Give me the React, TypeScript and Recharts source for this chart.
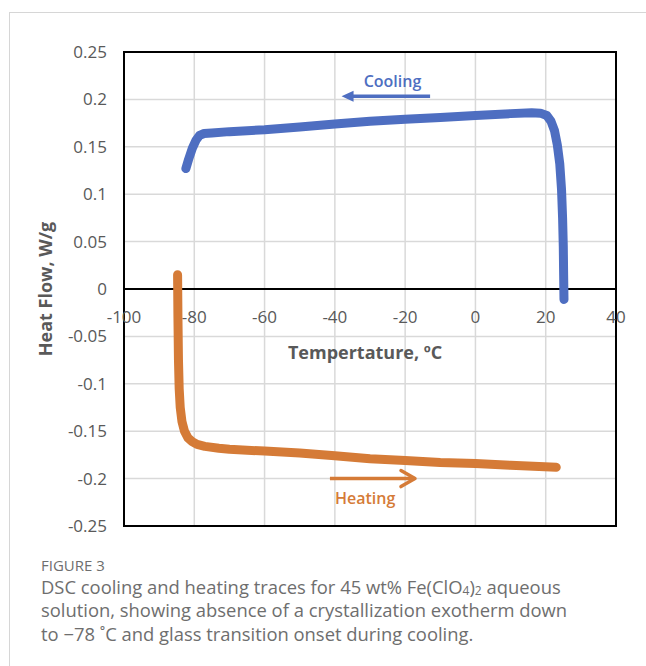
import React from 'react';
import {
  ComposedChart,
  Line,
  XAxis,
  YAxis,
  CartesianGrid,
  ReferenceLine,
  ReferenceDot,
  ReferenceArea,
} from 'recharts';

// ---- data ----
const coolingTemp = [-82.4, -81.6, -80.6, -79.5, -78.5, -77.2, -75, -70, -60, -50, -40, -30, -20, -10, 0, 10, 16, 18.5, 20.3, 21.5, 22.5, 23.3, 24.0, 24.5, 24.8, 25.0, 25.1, 25.2];
const coolingFlow = [0.127, 0.137, 0.148, 0.157, 0.162, 0.164, 0.1645, 0.166, 0.168, 0.171, 0.174, 0.177, 0.179, 0.181, 0.183, 0.185, 0.186, 0.1855, 0.183, 0.177, 0.167, 0.152, 0.132, 0.105, 0.075, 0.045, 0.015, -0.011];

const heatingTemp = [-84.75, -84.65, -84.5, -84.3, -84.0, -83.5, -82.8, -81.8, -80.6, -79.2, -77, -73, -70, -60, -50, -40, -30, -20, -10, 0, 10, 23];
const heatingFlow = [0.015, -0.03, -0.075, -0.105, -0.125, -0.14, -0.15, -0.157, -0.161, -0.164, -0.166, -0.168, -0.169, -0.171, -0.173, -0.176, -0.179, -0.181, -0.183, -0.184, -0.186, -0.188];

const xTicks = [-100, -80, -60, -40, -20, 0, 20, 40];
const yTicks = [-0.25, -0.2, -0.15, -0.1, -0.05, 0, 0.05, 0.1, 0.15, 0.2, 0.25];

const coolingLabel = 'Cooling';
const heatingLabel = 'Heating';
const xTitle = 'Tempertature, ºC';
const yTitle = 'Heat Flow, W/g';

const coolingData = coolingTemp.map((t, i) => ({ t, hf: coolingFlow[i] }));
const heatingData = heatingTemp.map((t, i) => ({ t, hf: heatingFlow[i] }));

// ---- styling / layout ----
const BLUE = '#4e6ec1';
const ORANGE = '#d57b37';
const GREY = '#595959';
const CAPTION = '#6e6e6e';
const FONT = '"Open Sans", sans-serif';

const CHART_W = 646;
const CHART_H = 546;
const M_TOP = 52;
const X_AXIS_H = 20;
const PLOT_H = CHART_H - M_TOP - X_AXIS_H;
const ZERO_Y = M_TOP + PLOT_H / 2;

const XTick = (props: any) => {
  const { x, payload } = props;
  return (
    <text
      x={x}
      y={ZERO_Y + 27}
      textAnchor="middle"
      dominantBaseline="central"
      fill={GREY}
      fontSize={17}
      fontFamily={FONT}
    >
      {String(payload.value)}
    </text>
  );
};

const textShape = (label: string, color: string, size: number) => (p: any) => (
  <text
    x={p.cx}
    y={p.cy}
    textAnchor="middle"
    dominantBaseline="central"
    fill={color}
    fontSize={size}
    fontWeight={600}
    fontFamily={FONT}
  >
    {label}
  </text>
);

const leftTriangle = (p: any) => (
  <path d={`M ${p.cx} ${p.cy} L ${p.cx + 12} ${p.cy - 5.5} L ${p.cx + 12} ${p.cy + 5.5} Z`} fill={BLUE} />
);

const rightChevron = (p: any) => (
  <path
    d={`M ${p.cx - 14} ${p.cy - 8} L ${p.cx} ${p.cy} L ${p.cx - 14} ${p.cy + 8}`}
    fill="none"
    stroke={ORANGE}
    strokeWidth={3.5}
    strokeLinecap="round"
    strokeLinejoin="round"
  />
);

const YTitle = (p: any) => {
  const vb = p.viewBox || { x: 64, y: M_TOP, width: 60, height: PLOT_H };
  const cx = vb.x - 19;
  const cy = vb.y + vb.height / 2;
  return (
    <text
      x={cx}
      y={cy}
      transform={`rotate(-90 ${cx} ${cy})`}
      textAnchor="middle"
      dominantBaseline="central"
      fill={GREY}
      fontSize={18}
      fontWeight={700}
      fontFamily={FONT}
    >
      {yTitle}
    </text>
  );
};

const subStyle: React.CSSProperties = { fontSize: 12, verticalAlign: 'baseline', position: 'relative', top: 1, lineHeight: 0 };
const captionLine: React.CSSProperties = {
  position: 'absolute',
  left: 41,
  fontFamily: FONT,
  fontSize: 18.4,
  lineHeight: '22px',
  height: 22,
  color: CAPTION,
  whiteSpace: 'nowrap',
};

export default function App() {
  return (
    <div style={{ position: 'absolute', left: 0, top: 0, width: 646, height: 666, overflow: 'hidden', background: '#fff' }}>
      <div
        style={{
          position: 'absolute',
          left: 9,
          top: 12,
          width: 637,
          height: 654,
          borderLeft: '1.5px solid #d6d6d6',
          borderTop: '1.5px solid #d6d6d6',
          boxSizing: 'border-box',
        }}
      />
      <div style={{ position: 'absolute', left: 0, top: 0 }}>
        <ComposedChart
          width={CHART_W}
          height={CHART_H}
          margin={{ top: M_TOP, right: 30, bottom: 0, left: 64 }}
        >
          <CartesianGrid stroke="#d9d9d9" strokeWidth={1.5} />
          <XAxis
            type="number"
            dataKey="t"
            domain={[-100, 40]}
            ticks={xTicks}
            interval={0}
            height={X_AXIS_H}
            axisLine={false}
            tickLine={false}
            tick={<XTick />}
            allowDataOverflow
          />
          <YAxis
            type="number"
            dataKey="hf"
            domain={[-0.25, 0.25]}
            ticks={yTicks}
            interval={0}
            width={60}
            axisLine={false}
            tickLine={false}
            tickSize={0}
            tickMargin={17}
            tick={{ fill: GREY, fontSize: 17, fontFamily: FONT }}
            tickFormatter={(v: number) => String(v)}
            label={{ content: YTitle }}
            allowDataOverflow
          />
          <ReferenceArea
            x1={-100}
            x2={40}
            y1={-0.25}
            y2={0.25}
            fill="none"
            fillOpacity={0}
            stroke="#000"
            strokeWidth={2}
          />
          <ReferenceLine y={0} stroke="#000" strokeWidth={2} />
          <Line
            data={coolingData}
            dataKey="hf"
            type="linear"
            stroke={BLUE}
            strokeWidth={9}
            strokeLinecap="round"
            strokeLinejoin="round"
            dot={false}
            activeDot={false}
            isAnimationActive={false}
          />
          <Line
            data={heatingData}
            dataKey="hf"
            type="linear"
            stroke={ORANGE}
            strokeWidth={9}
            strokeLinecap="round"
            strokeLinejoin="round"
            dot={false}
            activeDot={false}
            isAnimationActive={false}
          />
          <ReferenceLine
            segment={[{ x: -12.9, y: 0.2033 }, { x: -35.5, y: 0.2033 }]}
            stroke={BLUE}
            strokeWidth={3.5}
          />
          <ReferenceDot x={-38.1} y={0.2033} r={0} shape={leftTriangle} />
          <ReferenceDot x={-23.6} y={0.219} r={0} shape={textShape(coolingLabel, BLUE, 16)} />
          <ReferenceLine
            segment={[{ x: -41.4, y: -0.2 }, { x: -17.4, y: -0.2 }]}
            stroke={ORANGE}
            strokeWidth={3.5}
          />
          <ReferenceDot x={-17.2} y={-0.2} r={0} shape={rightChevron} />
          <ReferenceDot x={-31.4} y={-0.22} r={0} shape={textShape(heatingLabel, ORANGE, 16)} />
          <ReferenceDot x={-31.4} y={-0.0666} r={0} shape={(p: any) => (
            <text
              x={p.cx}
              y={p.cy}
              textAnchor="middle"
              dominantBaseline="central"
              fill={GREY}
              fontSize={18}
              fontWeight={700}
              fontFamily={FONT}
            >
              {xTitle}
            </text>
          )} />
        </ComposedChart>
      </div>
      <div style={{ position: 'absolute', left: 41, top: 556, height: 18, fontFamily: FONT, fontSize: 15, lineHeight: '18px', color: CAPTION, whiteSpace: 'nowrap' }}>
        FIGURE 3
      </div>
      <div style={{ ...captionLine, top: 575.5 }}>
        DSC cooling and heating traces for 45 wt% Fe(ClO<span style={subStyle}>4</span>)<span style={subStyle}>2</span> aqueous
      </div>
      <div style={{ ...captionLine, top: 599 }}>
        solution, showing absence of a crystallization exotherm down
      </div>
      <div style={{ ...captionLine, top: 622.5 }}>
        to −78 ˚C and glass transition onset during cooling.
      </div>
    </div>
  );
}
